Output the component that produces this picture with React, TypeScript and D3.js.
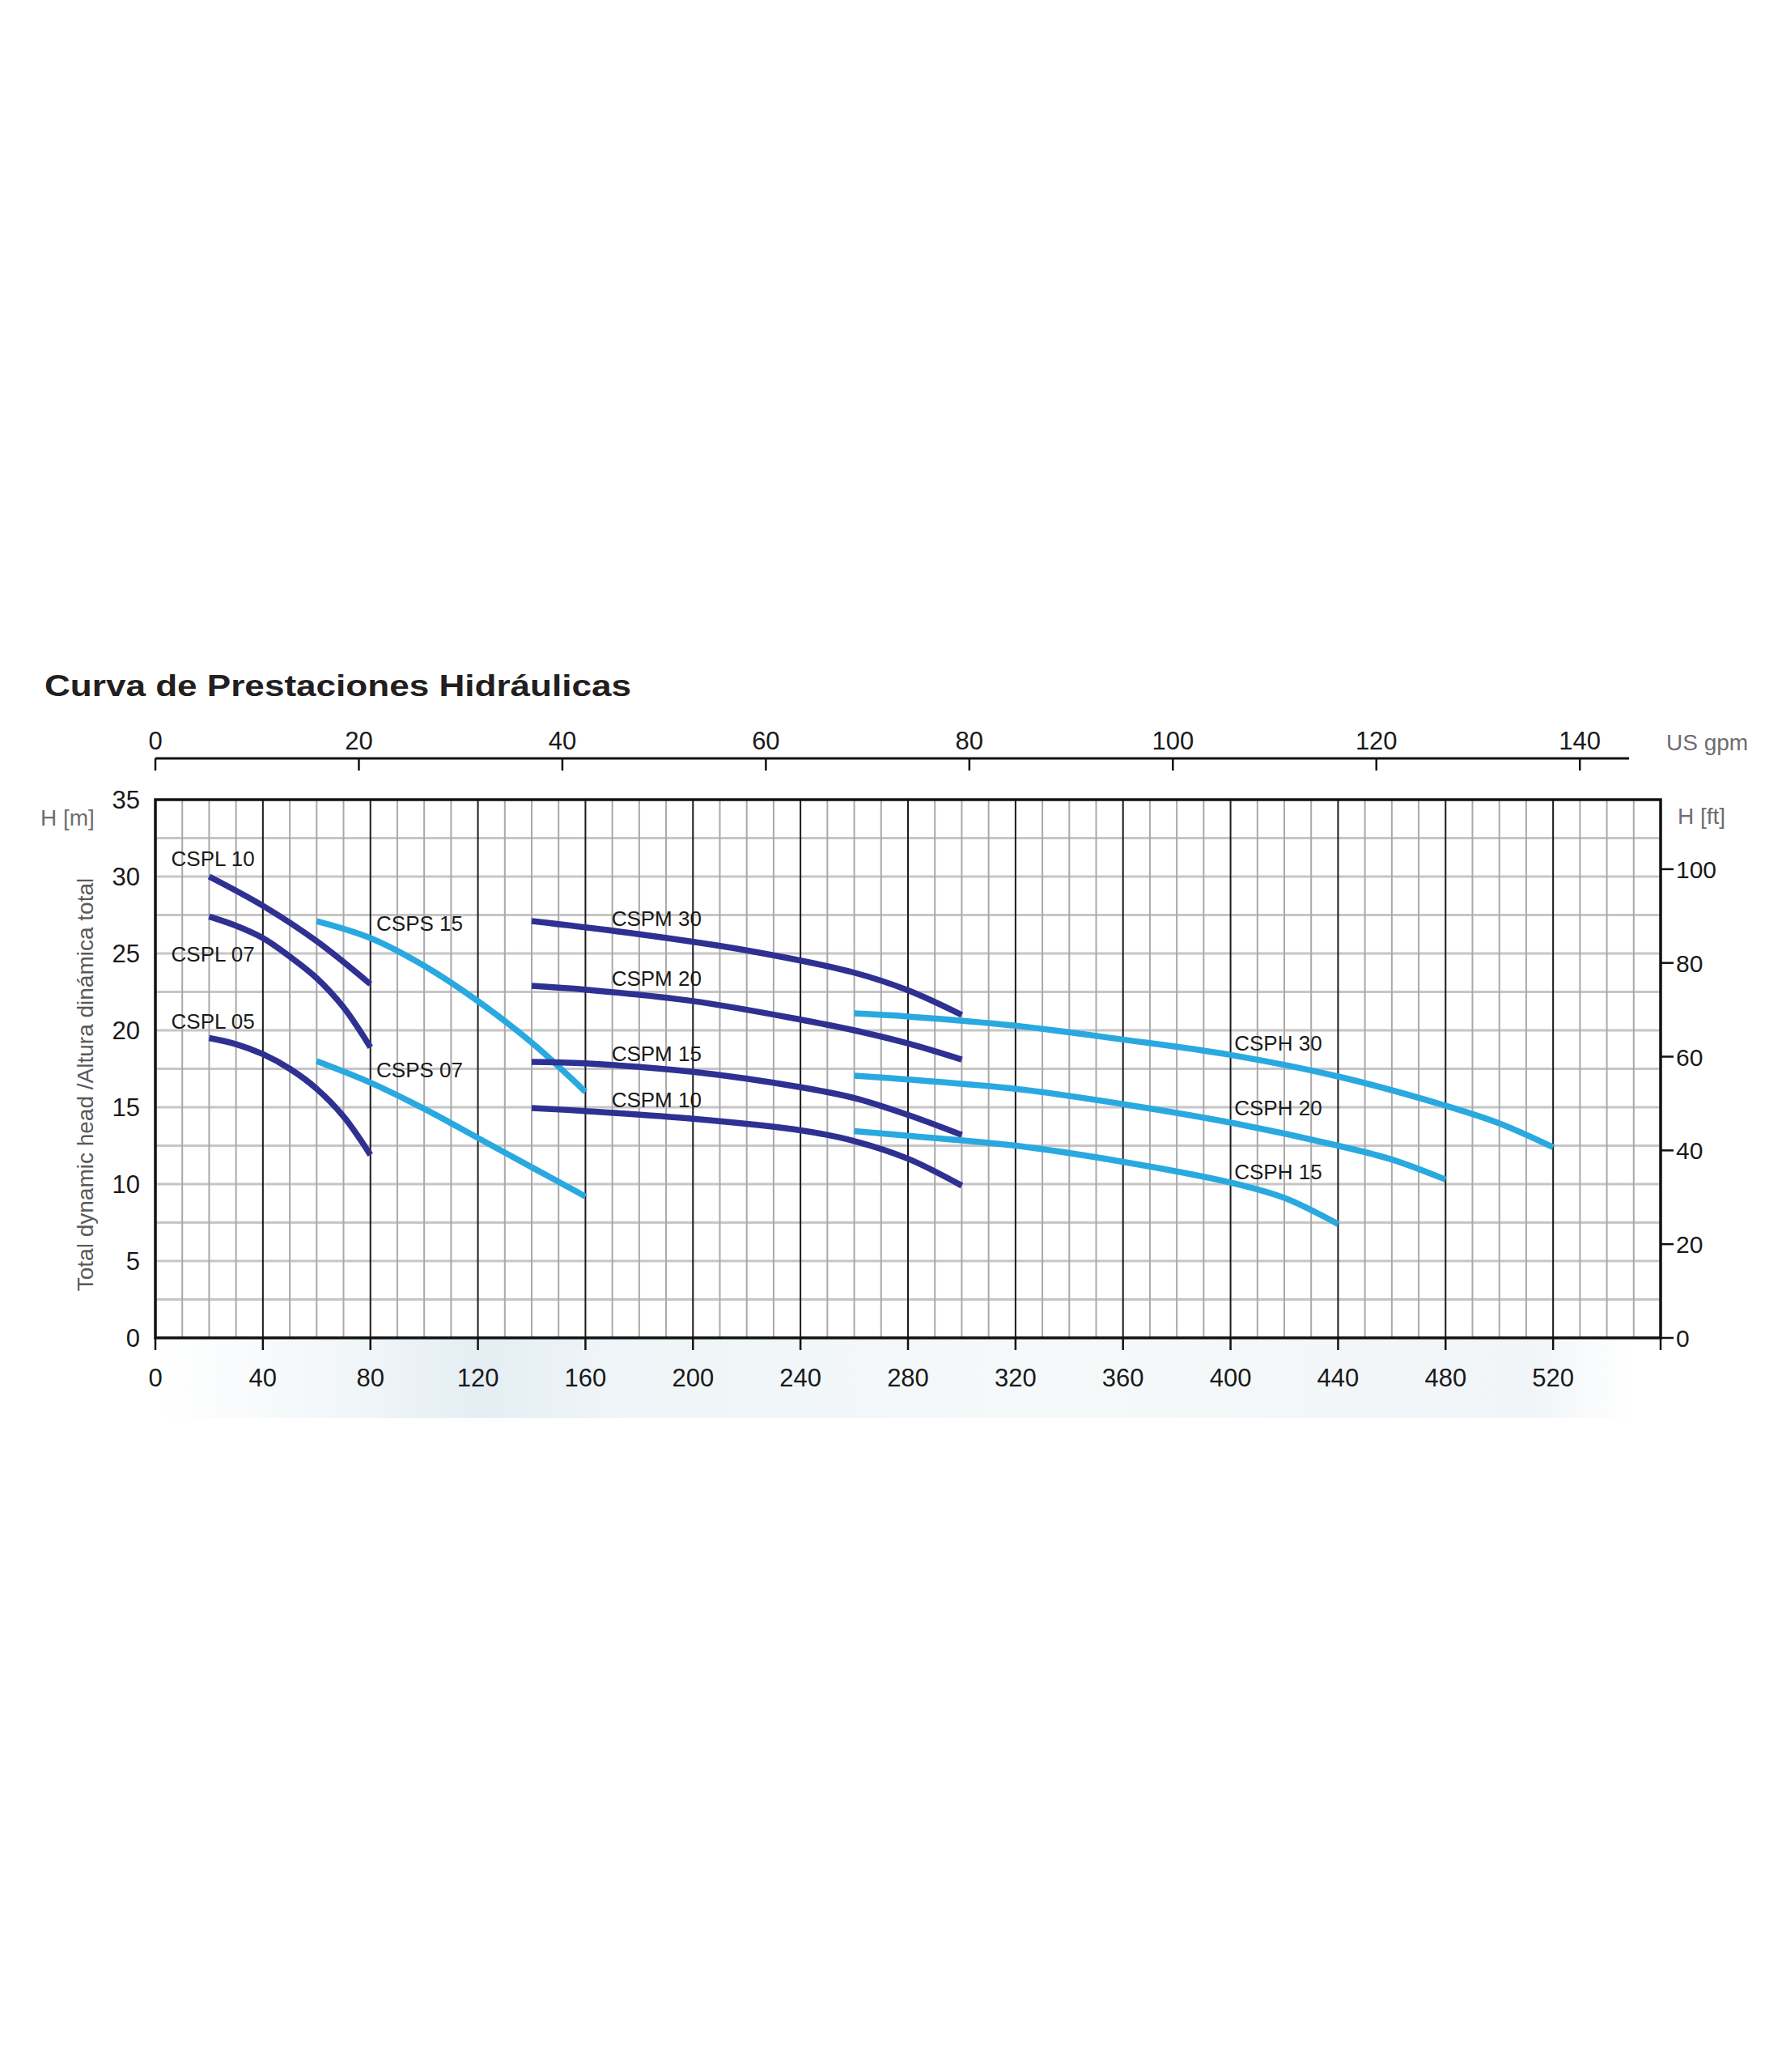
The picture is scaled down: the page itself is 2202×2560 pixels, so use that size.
import React from "react";
import * as d3 from "d3";

// ---- Data (flow in l/min, head in m) ----
const CSPL10 = [[20, 30.0], [40, 28.1], [60, 25.8], [80, 23.0]];
const CSPL07 = [[20, 27.4], [30, 26.8], [40, 26.0], [50, 24.8], [60, 23.4], [70, 21.5], [80, 18.9]];
const CSPL05 = [[20, 19.5], [30, 19.1], [40, 18.45], [50, 17.5], [60, 16.2], [70, 14.4], [80, 11.9]];
const CSPS15 = [[60, 27.1], [80, 26.0], [100, 24.2], [120, 21.9], [140, 19.2], [160, 16.0]];
const CSPS07 = [[60, 18.0], [80, 16.6], [100, 14.9], [120, 13.0], [140, 11.1], [160, 9.2]];
const CSPM30 = [[140, 27.1], [180, 26.25], [220, 25.2], [260, 23.75], [280, 22.6], [300, 21.0]];
const CSPM20 = [[140, 22.9], [160, 22.65], [200, 21.9], [240, 20.7], [260, 20.0], [280, 19.15], [300, 18.1]];
const CSPM15 = [[140, 17.95], [160, 17.85], [200, 17.3], [240, 16.3], [260, 15.6], [280, 14.5], [300, 13.2]];
const CSPM10 = [[140, 14.95], [160, 14.75], [200, 14.25], [240, 13.5], [260, 12.8], [280, 11.65], [300, 9.9]];
const CSPH30 = [[260, 21.1], [280, 20.9], [320, 20.3], [360, 19.4], [400, 18.4], [440, 17.0], [480, 15.1], [500, 13.95], [520, 12.4]];
const CSPH20 = [[260, 17.05], [280, 16.8], [320, 16.2], [360, 15.2], [400, 14.0], [440, 12.5], [460, 11.6], [480, 10.3]];
const CSPH15 = [[260, 13.45], [280, 13.15], [320, 12.5], [360, 11.45], [400, 10.1], [420, 9.1], [440, 7.4]];

const SERIES = [
  { name: "CSPL 10", data: CSPL10, dark: true, label: [5.9, 30.7] },
  { name: "CSPL 07", data: CSPL07, dark: true, label: [5.9, 24.5] },
  { name: "CSPL 05", data: CSPL05, dark: true, label: [5.9, 20.1] },
  { name: "CSPS 15", data: CSPS15, dark: false, label: [82.2, 26.5] },
  { name: "CSPS 07", data: CSPS07, dark: false, label: [82.2, 16.95] },
  { name: "CSPM 30", data: CSPM30, dark: true, label: [169.7, 26.8] },
  { name: "CSPM 20", data: CSPM20, dark: true, label: [169.7, 22.9] },
  { name: "CSPM 15", data: CSPM15, dark: true, label: [169.7, 18.0] },
  { name: "CSPM 10", data: CSPM10, dark: true, label: [169.7, 15.0] },
  { name: "CSPH 30", data: CSPH30, dark: false, label: [401.4, 18.7] },
  { name: "CSPH 20", data: CSPH20, dark: false, label: [401.4, 14.5] },
  { name: "CSPH 15", data: CSPH15, dark: false, label: [401.4, 10.3] },
];

const X_TICKS = [0, 40, 80, 120, 160, 200, 240, 280, 320, 360, 400, 440, 480, 520];
const Y_TICKS = [0, 5, 10, 15, 20, 25, 30, 35];
const FT_TICKS = [0, 20, 40, 60, 80, 100];
const GPM_TICKS = [0, 20, 40, 60, 80, 100, 120, 140];

const TITLE = "Curva de Prestaciones Hidráulicas";
const Y_TITLE = "Total dynamic head /Altura dinámica total";

const FONT = "'Liberation Sans', Arial, Helvetica, sans-serif";
const NAVY = "#2e3192";
const LIGHT = "#29a9e0";

export default function App() {
  const W = 2202, H = 2560;
  const L = 192, R = 2052, T = 988, B = 1653;
  const x = d3.scaleLinear().domain([0, 560]).range([L, R]);
  const y = d3.scaleLinear().domain([0, 35]).range([B, T]);
  const yFt = d3.scaleLinear().domain([0, 35 * 3.28084]).range([B, T]);
  const xGpm = d3.scaleLinear().domain([0, 560 / 3.78541]).range([L, R]);
  const line = d3
    .line<number[]>()
    .x((d) => x(d[0]))
    .y((d) => y(d[1]))
    .curve(d3.curveCatmullRom.alpha(0.5));

  const hGrid = d3.range(2.5, 35, 2.5);
  const vGrid = d3.range(10, 560, 10);
  const topAxisY = 937;
  const topAxisEnd = 2013;

  return (
    <svg
      width={W}
      height={H}
      viewBox={`0 0 ${W} ${H}`}
      style={{ position: "absolute", left: 0, top: 0, background: "#fff" }}
    >
      <defs>
        <linearGradient id="bg" x1="0" x2="1" y1="0" y2="0">
          <stop offset="0" stopColor="#ffffff" />
          <stop offset="0.12" stopColor="#f3f7f9" />
          <stop offset="0.22" stopColor="#e4eef3" />
          <stop offset="0.3" stopColor="#eef4f7" />
          <stop offset="0.6" stopColor="#f6f9fa" />
          <stop offset="0.93" stopColor="#f1f5f7" />
          <stop offset="1" stopColor="#ffffff" />
        </linearGradient>
        <clipPath id="cut">
          <rect x={0} y={0} width={W} height={1752} />
        </clipPath>
      </defs>
      <rect x={0} y={0} width={W} height={H} fill="#fff" />
      <rect x={190} y={1655} width={1830} height={97} fill="url(#bg)" />

      {/* Title */}
      <text
        x={55}
        y={860}
        fontFamily={FONT}
        fontSize={36}
        fontWeight="bold"
        fill="#231f20"
        textLength={725}
        lengthAdjust="spacingAndGlyphs"
      >
        {TITLE}
      </text>

      {/* Top axis (US gpm) */}
      <line x1={L} x2={topAxisEnd} y1={topAxisY} y2={topAxisY} stroke="#111" strokeWidth={3} />
      {GPM_TICKS.map((g) => (
        <g key={"g" + g}>
          <line x1={xGpm(g)} x2={xGpm(g)} y1={topAxisY} y2={topAxisY + 15} stroke="#111" strokeWidth={2.5} />
          <text x={xGpm(g)} y={926} textAnchor="middle" fontFamily={FONT} fontSize={31} fill="#1a1a1a">
            {g}
          </text>
        </g>
      ))}
      <text x={2059} y={927} fontFamily={FONT} fontSize={28} fill="#6d6e71">
        US gpm
      </text>

      {/* Grid */}
      {hGrid.map((v) => (
        <line key={"h" + v} x1={L} x2={R} y1={y(v)} y2={y(v)} stroke="#c6c6c6" strokeWidth={3} />
      ))}
      {vGrid.map((v) => (
        <line
          key={"v" + v}
          x1={x(v)}
          x2={x(v)}
          y1={T}
          y2={B}
          stroke={v % 40 === 0 ? "#1a1a1a" : "#a9a9a9"}
          strokeWidth={2}
        />
      ))}
      <rect x={L} y={T} width={R - L} height={B - T} fill="none" stroke="#111" strokeWidth={3.5} />

      {/* Bottom axis ticks & labels */}
      {[...X_TICKS, 560].map((v) => (
        <line key={"bt" + v} x1={x(v)} x2={x(v)} y1={B} y2={B + 15} stroke="#111" strokeWidth={2.5} />
      ))}
      {X_TICKS.map((v) => (
        <text key={"bl" + v} x={x(v)} y={1713} textAnchor="middle" fontFamily={FONT} fontSize={31} fill="#1a1a1a">
          {v}
        </text>
      ))}

      {/* Left axis labels */}
      {Y_TICKS.map((v) => (
        <text key={"yl" + v} x={173} y={y(v) + 11} textAnchor="end" fontFamily={FONT} fontSize={31} fill="#1a1a1a">
          {v}
        </text>
      ))}
      <text x={50} y={1020} fontFamily={FONT} fontSize={28} fill="#6d6e71">
        H [m]
      </text>
      <text
        transform="translate(115,1340) rotate(-90)"
        textAnchor="middle"
        fontFamily={FONT}
        fontSize={28}
        fill="#58595b"
      >
        {Y_TITLE}
      </text>

      {/* Right axis (ft) */}
      {FT_TICKS.map((v) => (
        <g key={"ft" + v}>
          <line x1={R} x2={R + 16} y1={yFt(v)} y2={yFt(v)} stroke="#111" strokeWidth={2.5} />
          <text x={2071} y={yFt(v) + 11} fontFamily={FONT} fontSize={30} fill="#1a1a1a">
            {v}
          </text>
        </g>
      ))}
      <text x={2073} y={1018} fontFamily={FONT} fontSize={28} fill="#6d6e71">
        H [ft]
      </text>

      {/* Curves */}
      {SERIES.map((s) => (
        <path
          key={s.name}
          d={line(s.data) || ""}
          fill="none"
          stroke={s.dark ? NAVY : LIGHT}
          strokeWidth={7.5}
          strokeLinecap="butt"
        />
      ))}
      {SERIES.map((s) => (
        <text
          key={"t" + s.name}
          x={x(s.label[0])}
          y={y(s.label[1])}
          fontFamily={FONT}
          fontSize={26}
          fill="#1a1a1a"
        >
          {s.name}
        </text>
      ))}

      {/* Cut-off axis caption at bottom edge of the picture */}
      <g clipPath="url(#cut)">
        <text x={1122} y={1772} textAnchor="middle" fontFamily={FONT} fontSize={28} fill="#8a8c8e">
          Flow / Caudal [l/min]
        </text>
      </g>
    </svg>
  );
}
